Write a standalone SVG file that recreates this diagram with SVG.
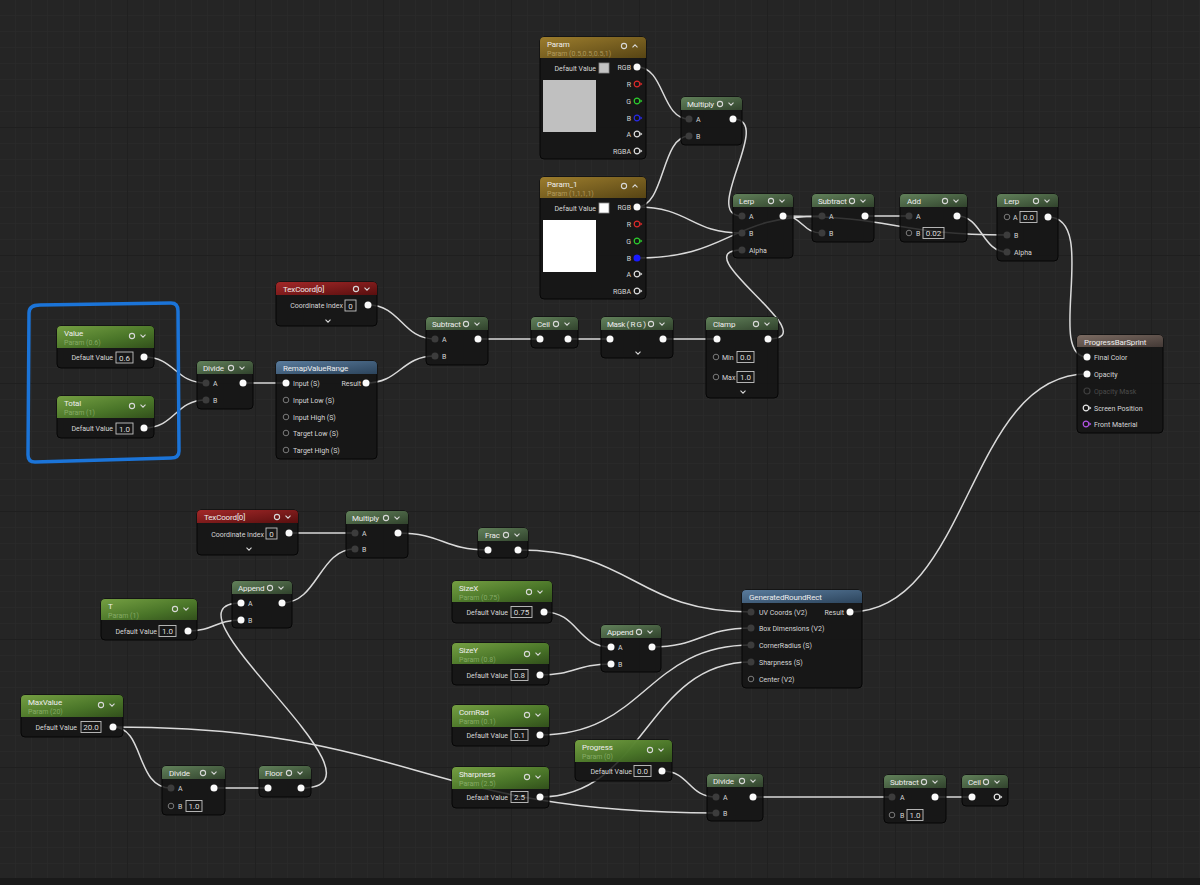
<svg xmlns="http://www.w3.org/2000/svg" width="1200" height="885" viewBox="0 0 1200 885">
<defs>
<style>
text{font-family:Roboto,"Liberation Sans",Arial,sans-serif}
.b{fill:#141414;fill-opacity:.84;stroke:#060606;stroke-width:1}
.t{font-size:8px;fill:#ededed;letter-spacing:-.15px}
.s{font-size:7px;fill:#bcd9a0;fill-opacity:.5}
.sv{font-size:7px;fill:#e6d49a;fill-opacity:.5}
.l{font-size:7px;fill:#d6d6d6}
.r{text-anchor:end}
.c{text-anchor:middle}
.dm{fill:#4a4a4a}
.bx{fill:none;stroke:#c4c4c4;stroke-width:.9}
.v{font-size:8px;fill:#dcdcdc;text-anchor:middle}
.pc{fill:#fafafa}
.pi{fill:#3c3c3c}
.ph{fill:none;stroke:#7a7a7a;stroke-width:1}
.w{fill:none;stroke:#dadada;stroke-width:1.5}
.ic{fill:none;stroke:#d8d8d8;stroke-width:1.1}
.hm{fill:url(#gm);fill-opacity:.9}
.hp{fill:url(#gp);fill-opacity:.9}
.hv{fill:url(#gv);fill-opacity:.92}
.ht{fill:url(#gt);fill-opacity:.92}
.hf{fill:url(#gf);fill-opacity:.92}
.hr{fill:url(#gr);fill-opacity:.92}
</style>
<pattern id="gmin" width="16" height="16" patternUnits="userSpaceOnUse"><path d="M16,0V16H0" fill="none" stroke="#2b2b2b" stroke-width="1"/></pattern>
<pattern id="gmaj" width="128" height="128" patternUnits="userSpaceOnUse"><path d="M128,0V128H0" fill="none" stroke="#1b1b1b" stroke-width="1.3"/></pattern>
<linearGradient id="gm" x1="0" y1="0" x2="1" y2="1"><stop offset="0" stop-color="#6a8d62"/><stop offset="1" stop-color="#34482f"/></linearGradient>
<linearGradient id="gp" x1="0" y1="0" x2="1" y2="1"><stop offset="0" stop-color="#7fae47"/><stop offset=".6" stop-color="#4f7f2a"/><stop offset="1" stop-color="#35561c"/></linearGradient>
<linearGradient id="gv" x1="0" y1="0" x2="1" y2="1"><stop offset="0" stop-color="#a8862f"/><stop offset="1" stop-color="#5c4814"/></linearGradient>
<linearGradient id="gt" x1="0" y1="0" x2="1" y2="1"><stop offset="0" stop-color="#b02a2a"/><stop offset="1" stop-color="#5e0e0e"/></linearGradient>
<linearGradient id="gf" x1="0" y1="0" x2="1" y2="1"><stop offset="0" stop-color="#5f84a8"/><stop offset="1" stop-color="#2e4862"/></linearGradient>
<linearGradient id="gr" x1="0" y1="0" x2="1" y2="1"><stop offset="0" stop-color="#857369"/><stop offset="1" stop-color="#473c38"/></linearGradient>
<g id="ic"><circle r="2.6" class="ic"/><path d="M8.5,-1.3L11,1.2L13.5,-1.3" class="ic"/></g>
<g id="icu"><circle r="2.6" class="ic"/><path d="M8.5,1.3L11,-1.2L13.5,1.3" class="ic"/></g>
<path id="chev" d="M-2.5,-1.3L0,1.2L2.5,-1.3" class="ic"/>
<g id="ho"><circle r="2.8" fill="none" stroke="currentColor" stroke-width="1.2"/><path d="M3.4,-1.7L5.4,0L3.4,1.7Z" fill="currentColor"/></g>
</defs>

<rect width="1200" height="885" fill="#252525"/>
<rect width="1200" height="885" fill="url(#gmin)"/>
<rect width="1200" height="885" fill="url(#gmaj)"/>
<rect y="878" width="1200" height="7" fill="#1a1a1a"/>

<g id="connectors">
<path class="w" d="M637,67C665,67 661,119 689,119"/>
<path class="w" d="M637,207C665,207 661,136 689,136"/>
<path class="w" d="M637,207C690,207 690,233 742,233"/>
<path class="w" d="M637,258C730,258 728,216 822,216"/>
<path class="w" d="M733,119C775,119 700,216 742,216"/>
<path class="w" d="M783,216C803,216 802,233 822,233"/>
<path class="w" d="M783,216C895,216 895,235 1007,235"/>
<path class="w" d="M865,216L909,216"/>
<path class="w" d="M957,216C982,216 982,252 1007,252"/>
<path class="w" d="M1048,217C1100,217 1045,357 1087,357"/>
<path class="w" d="M768,339C830,339 680,250 742,250"/>
<path class="w" d="M144,357C175,357 175,383 206,383"/>
<path class="w" d="M144,428C175,428 175,400 206,400"/>
<path class="w" d="M243,383L286,383"/>
<path class="w" d="M368,305C401,305 402,339 435,339"/>
<path class="w" d="M366,383C400,383 401,356 435,356"/>
<path class="w" d="M478,339L540,339"/>
<path class="w" d="M568,339L610,339"/>
<path class="w" d="M663,339L717,339"/>
<path class="w" d="M850,612C970,612 967,374 1087,374"/>
<path class="w" d="M289,533L355,533"/>
<path class="w" d="M282,603C318,603 319,549 355,549"/>
<path class="w" d="M398,533C443,533 443,550 488,550"/>
<path class="w" d="M518,550C635,550 634,612 751,612"/>
<path class="w" d="M188,631C214,631 215,620 241,620"/>
<path class="w" d="M301,788C405,788 150,603 241,603"/>
<path class="w" d="M113,727C145,727 135,788 171,788"/>
<path class="w" d="M113,727C413,727 416,813 716,813"/>
<path class="w" d="M214,788L268,788"/>
<path class="w" d="M544,612C578,612 577,647 611,647"/>
<path class="w" d="M540,675C575,675 576,664 611,664"/>
<path class="w" d="M652,647C700,647 702,628 751,628"/>
<path class="w" d="M540,735C645,735 646,645 751,645"/>
<path class="w" d="M540,797C645,797 646,662 751,662"/>
<path class="w" d="M662,771C690,771 688,797 716,797"/>
<path class="w" d="M753,797L892,797"/>
<path class="w" d="M935,797L972,797"/>
</g>

<g id="param" transform="translate(540,37)">
<rect class="b" width="106" height="122" rx="4"/>
<path class="hv" d="M0,21V4Q0,0 4,0H102Q106,0 106,4V21Z"/>
<text class="t" x="7" y="10">Param</text>
<text class="sv" x="7" y="19">Param (0.5,0.5,0.5,1)</text>
<use href="#icu" x="84" y="9"/>
<text class="l r" x="56" y="34">Default Value</text>
<rect x="59" y="26" width="10" height="10" fill="#c4c4c4" stroke="#8a8a8a" stroke-width=".8"/>
<rect x="3" y="43" width="53" height="52" fill="#c0c0c0"/>
<text class="l r" x="91" y="33">RGB</text><circle class="pc" cx="97" cy="30" r="3.5"/>
<text class="l r" x="91" y="50">R</text><use href="#ho" x="97" y="47" style="color:#e02a2a"/>
<text class="l r" x="91" y="67">G</text><use href="#ho" x="97" y="64" style="color:#2ed02e"/>
<text class="l r" x="91" y="84">B</text><use href="#ho" x="97" y="81" style="color:#2a2ae8"/>
<text class="l r" x="91" y="100">A</text><use href="#ho" x="97" y="97" style="color:#e0e0e0"/>
<text class="l r" x="91" y="117">RGBA</text><use href="#ho" x="97" y="114" style="color:#e0e0e0"/>
</g>

<g id="param1" transform="translate(540,177)">
<rect class="b" width="106" height="122" rx="4"/>
<path class="hv" d="M0,21V4Q0,0 4,0H102Q106,0 106,4V21Z"/>
<text class="t" x="7" y="10">Param_1</text>
<text class="sv" x="7" y="19">Param (1,1,1,1)</text>
<use href="#icu" x="84" y="9"/>
<text class="l r" x="56" y="34">Default Value</text>
<rect x="59" y="26" width="10" height="10" fill="#ffffff" stroke="#8a8a8a" stroke-width=".8"/>
<rect x="3" y="43" width="53" height="52" fill="#ffffff"/>
<text class="l r" x="91" y="33">RGB</text><circle class="pc" cx="97" cy="30" r="3.5"/>
<text class="l r" x="91" y="50">R</text><use href="#ho" x="97" y="47" style="color:#e02a2a"/>
<text class="l r" x="91" y="67">G</text><use href="#ho" x="97" y="64" style="color:#2ed02e"/>
<text class="l r" x="91" y="84">B</text><circle cx="97" cy="81" r="3.5" fill="#1a1aff"/>
<text class="l r" x="91" y="100">A</text><use href="#ho" x="97" y="97" style="color:#e0e0e0"/>
<text class="l r" x="91" y="117">RGBA</text><use href="#ho" x="97" y="114" style="color:#e0e0e0"/>
</g>

<g id="multiply-top" transform="translate(681,97)">
<rect class="b" width="61" height="48" rx="4"/>
<path class="hm" d="M0,13V4Q0,0 4,0H57Q61,0 61,4V13Z"/>
<text class="t" x="6" y="10">Multiply</text>
<use href="#ic" x="39" y="7"/>
<circle class="pi" cx="8" cy="22" r="3.5"/><text class="l" x="15" y="25">A</text>
<circle class="pi" cx="8" cy="39" r="3.5"/><text class="l" x="15" y="42">B</text>
<circle class="pc" cx="52" cy="22" r="3.5"/>
</g>

<g id="lerp1" transform="translate(733,194)">
<rect class="b" width="60" height="64" rx="4"/>
<path class="hm" d="M0,13V4Q0,0 4,0H56Q60,0 60,4V13Z"/>
<text class="t" x="6" y="10">Lerp</text>
<use href="#ic" x="38" y="7"/>
<circle class="pi" cx="9" cy="22" r="3.5"/><text class="l" x="16" y="25">A</text>
<circle class="pi" cx="9" cy="39" r="3.5"/><text class="l" x="16" y="42">B</text>
<circle class="pi" cx="9" cy="56" r="3.5"/><text class="l" x="16" y="59">Alpha</text>
<circle class="pc" cx="50" cy="22" r="3.5"/>
</g>

<g id="subtract-top" transform="translate(812,194)">
<rect class="b" width="62" height="48" rx="4"/>
<path class="hm" d="M0,13V4Q0,0 4,0H58Q62,0 62,4V13Z"/>
<text class="t" x="6" y="10">Subtract</text>
<use href="#ic" x="40" y="7"/>
<circle class="pi" cx="10" cy="22" r="3.5"/><text class="l" x="17" y="25">A</text>
<circle class="pi" cx="10" cy="39" r="3.5"/><text class="l" x="17" y="42">B</text>
<circle class="pc" cx="53" cy="22" r="3.5"/>
</g>

<g id="add" transform="translate(900,194)">
<rect class="b" width="67" height="48" rx="4"/>
<path class="hm" d="M0,13V4Q0,0 4,0H63Q67,0 67,4V13Z"/>
<text class="t" x="7" y="10">Add</text>
<use href="#ic" x="45" y="7"/>
<circle class="pi" cx="9" cy="22" r="3.5"/><text class="l" x="16" y="25">A</text>
<circle class="ph" cx="9" cy="39" r="2.8"/><text class="l" x="16" y="42">B</text>
<rect class="bx" x="23" y="33.5" width="21" height="11"/><text class="v" x="33.5" y="42">0.02</text>
<circle class="pc" cx="57" cy="22" r="3.5"/>
</g>

<g id="lerp2" transform="translate(997,194)">
<rect class="b" width="61" height="67" rx="4"/>
<path class="hm" d="M0,13V4Q0,0 4,0H57Q61,0 61,4V13Z"/>
<text class="t" x="7" y="10">Lerp</text>
<use href="#ic" x="39" y="7"/>
<circle class="ph" cx="10" cy="23" r="2.8"/><text class="l" x="16" y="26">A</text>
<rect class="bx" x="23" y="17.5" width="17" height="11"/><text class="v" x="31.5" y="26">0.0</text>
<circle class="pi" cx="10" cy="41" r="3.5"/><text class="l" x="17" y="44">B</text>
<circle class="pi" cx="10" cy="58" r="3.5"/><text class="l" x="17" y="61">Alpha</text>
<circle class="pc" cx="51" cy="23" r="3.5"/>
</g>

<g id="selection">
<path d="M40,305L171,303Q178,303 178,311L179,451Q179,458 171,458L35,462Q28,462 28,455L29,313Q29,305 40,305Z" fill="none" stroke="#1b74d8" stroke-width="3.5" stroke-linejoin="round"/>
</g>

<g id="value" transform="translate(57,326)">
<rect class="b" width="97" height="42" rx="4"/>
<path class="hp" d="M0,22V4Q0,0 4,0H93Q97,0 97,4V22Z"/>
<text class="t" x="7" y="10">Value</text>
<text class="s" x="7" y="19">Param (0.6)</text>
<use href="#ic" x="75" y="10"/>
<text class="l r" x="56" y="34">Default Value</text>
<rect class="bx" x="59" y="26" width="17" height="11"/><text class="v" x="67.5" y="34.5">0.6</text>
<circle class="pc" cx="87" cy="31" r="3.5"/>
</g>

<g id="total" transform="translate(57,396)">
<rect class="b" width="97" height="42" rx="4"/>
<path class="hp" d="M0,22V4Q0,0 4,0H93Q97,0 97,4V22Z"/>
<text class="t" x="7" y="10">Total</text>
<text class="s" x="7" y="19">Param (1)</text>
<use href="#ic" x="75" y="10"/>
<text class="l r" x="56" y="35">Default Value</text>
<rect class="bx" x="59" y="27" width="17" height="11"/><text class="v" x="67.5" y="35.5">1.0</text>
<circle class="pc" cx="87" cy="32" r="3.5"/>
</g>

<g id="divide-left" transform="translate(197,361)">
<rect class="b" width="56" height="48" rx="4"/>
<path class="hm" d="M0,13V4Q0,0 4,0H52Q56,0 56,4V13Z"/>
<text class="t" x="6" y="10">Divide</text>
<use href="#ic" x="34" y="7"/>
<circle class="pi" cx="9" cy="22" r="3.5"/><text class="l" x="16" y="25">A</text>
<circle class="pi" cx="9" cy="39" r="3.5"/><text class="l" x="16" y="42">B</text>
<circle class="pc" cx="46" cy="22" r="3.5"/>
</g>

<g id="texcoord-top" transform="translate(276,282)">
<rect class="b" width="101" height="44" rx="4"/>
<path class="ht" d="M0,13V4Q0,0 4,0H97Q101,0 101,4V13Z"/>
<text class="t" x="7" y="10">TexCoord[0]</text>
<use href="#ic" x="80" y="7"/>
<text class="l r" x="67" y="26">Coordinate Index</text>
<rect class="bx" x="69" y="18" width="11" height="11"/><text class="v" x="74.5" y="26.5">0</text>
<circle class="pc" cx="92" cy="23" r="3.5"/>
<use href="#chev" x="52" y="39"/>
</g>

<g id="remap" transform="translate(276,361)">
<rect class="b" width="101" height="98" rx="4"/>
<path class="hf" d="M0,13V4Q0,0 4,0H97Q101,0 101,4V13Z"/>
<text class="t" x="7" y="10">RemapValueRange</text>
<circle class="pc" cx="10" cy="22" r="3.5"/><text class="l" x="17" y="25">Input (S)</text>
<text class="l r" x="85" y="25">Result</text><circle class="pc" cx="90" cy="22" r="3.5"/>
<circle class="ph" cx="10" cy="39" r="2.8"/><text class="l" x="17" y="42">Input Low (S)</text>
<circle class="ph" cx="10" cy="56" r="2.8"/><text class="l" x="17" y="59">Input High (S)</text>
<circle class="ph" cx="10" cy="72" r="2.8"/><text class="l" x="17" y="75">Target Low (S)</text>
<circle class="ph" cx="10" cy="89" r="2.8"/><text class="l" x="17" y="92">Target High (S)</text>
</g>

<g id="subtract-mid" transform="translate(426,317)">
<rect class="b" width="62" height="48" rx="4"/>
<path class="hm" d="M0,13V4Q0,0 4,0H58Q62,0 62,4V13Z"/>
<text class="t" x="6" y="10">Subtract</text>
<use href="#ic" x="40" y="7"/>
<circle class="pi" cx="9" cy="22" r="3.5"/><text class="l" x="16" y="25">A</text>
<circle class="pi" cx="9" cy="39" r="3.5"/><text class="l" x="16" y="42">B</text>
<circle class="pc" cx="52" cy="22" r="3.5"/>
</g>

<g id="ceil-mid" transform="translate(531,317)">
<rect class="b" width="47" height="31" rx="4"/>
<path class="hm" d="M0,13V4Q0,0 4,0H43Q47,0 47,4V13Z"/>
<text class="t" x="6" y="10">Ceil</text>
<use href="#ic" x="25" y="7"/>
<circle class="pc" cx="9" cy="22" r="3.5"/>
<circle class="pc" cx="37" cy="22" r="3.5"/>
</g>

<g id="mask" transform="translate(601,317)">
<rect class="b" width="72" height="41" rx="4"/>
<path class="hm" d="M0,13V4Q0,0 4,0H68Q72,0 72,4V13Z"/>
<text class="t" x="6" y="10" style="letter-spacing:-.4px">Mask ( R G )</text>
<use href="#ic" x="50" y="7"/>
<circle class="pc" cx="9" cy="22" r="3.5"/>
<circle class="pc" cx="62" cy="22" r="3.5"/>
<use href="#chev" x="37" y="36"/>
</g>

<g id="clamp" transform="translate(706,317)">
<rect class="b" width="72" height="81" rx="4"/>
<path class="hm" d="M0,13V4Q0,0 4,0H68Q72,0 72,4V13Z"/>
<text class="t" x="7" y="10">Clamp</text>
<use href="#ic" x="50" y="7"/>
<circle class="pc" cx="11" cy="22" r="3.5"/>
<circle class="pc" cx="62" cy="22" r="3.5"/>
<circle class="ph" cx="10" cy="40" r="2.8"/><text class="l" x="16" y="43">Min</text>
<rect class="bx" x="31" y="34.5" width="17" height="11"/><text class="v" x="39.5" y="43">0.0</text>
<circle class="ph" cx="10" cy="60" r="2.8"/><text class="l" x="16" y="63">Max</text>
<rect class="bx" x="31" y="54.5" width="17" height="11"/><text class="v" x="39.5" y="63">1.0</text>
<use href="#chev" x="37" y="75"/>
</g>

<g id="progressbarsprint" transform="translate(1077,335)">
<rect class="b" width="86" height="98" rx="4"/>
<path class="hr" d="M0,12V4Q0,0 4,0H82Q86,0 86,4V12Z"/>
<text class="t" x="7" y="9.5">ProgressBarSprint</text>
<circle class="pc" cx="10" cy="22" r="3.5"/><text class="l" x="17" y="25">Final Color</text>
<circle class="pc" cx="10" cy="39" r="3.5"/><text class="l" x="17" y="42">Opacity</text>
<circle cx="10" cy="56" r="3" fill="none" stroke="#3e3e3e" stroke-width="1.2"/><text class="l dm" x="17" y="59">Opacity Mask</text>
<use href="#ho" x="9" y="73" style="color:#e8e8e8"/><text class="l" x="17" y="76">Screen Position</text>
<use href="#ho" x="9" y="89" style="color:#b454e6"/><text class="l" x="17" y="92">Front Material</text>
</g>

<g id="texcoord-bottom" transform="translate(197,510)">
<rect class="b" width="101" height="45" rx="4"/>
<path class="ht" d="M0,13V4Q0,0 4,0H97Q101,0 101,4V13Z"/>
<text class="t" x="7" y="10">TexCoord[0]</text>
<use href="#ic" x="80" y="7"/>
<text class="l r" x="67" y="26.5">Coordinate Index</text>
<rect class="bx" x="69" y="18" width="11" height="11"/><text class="v" x="74.5" y="26.5">0</text>
<circle class="pc" cx="92" cy="23" r="3.5"/>
<use href="#chev" x="52" y="39"/>
</g>

<g id="multiply-bottom" transform="translate(346,511)">
<rect class="b" width="62" height="47" rx="4"/>
<path class="hm" d="M0,13V4Q0,0 4,0H58Q62,0 62,4V13Z"/>
<text class="t" x="6" y="10">Multiply</text>
<use href="#ic" x="40" y="7"/>
<circle class="pi" cx="9" cy="22" r="3.5"/><text class="l" x="16" y="25">A</text>
<circle class="pi" cx="9" cy="38" r="3.5"/><text class="l" x="16" y="41">B</text>
<circle class="pc" cx="52" cy="22" r="3.5"/>
</g>

<g id="frac" transform="translate(478,528)">
<rect class="b" width="50" height="30" rx="4"/>
<path class="hm" d="M0,13V4Q0,0 4,0H46Q50,0 50,4V13Z"/>
<text class="t" x="7" y="10">Frac</text>
<use href="#ic" x="28" y="7"/>
<circle class="pc" cx="10" cy="22" r="3.5"/>
<circle class="pc" cx="40" cy="22" r="3.5"/>
</g>

<g id="param-t" transform="translate(101,599)">
<rect class="b" width="96" height="41" rx="4"/>
<path class="hp" d="M0,21V4Q0,0 4,0H92Q96,0 96,4V21Z"/>
<text class="t" x="7" y="10">T</text>
<text class="s" x="7" y="19">Param (1)</text>
<use href="#ic" x="74" y="10"/>
<text class="l r" x="56" y="35">Default Value</text>
<rect class="bx" x="58" y="26.5" width="17" height="11"/><text class="v" x="66.5" y="35">1.0</text>
<circle class="pc" cx="87" cy="32" r="3.5"/>
</g>

<g id="append-left" transform="translate(232,581)">
<rect class="b" width="60" height="47" rx="4"/>
<path class="hm" d="M0,13V4Q0,0 4,0H56Q60,0 60,4V13Z"/>
<text class="t" x="6" y="10">Append</text>
<use href="#ic" x="38" y="7"/>
<circle class="pc" cx="9" cy="22" r="3.5"/><text class="l" x="16" y="25">A</text>
<circle class="pc" cx="9" cy="39" r="3.5"/><text class="l" x="16" y="42">B</text>
<circle class="pc" cx="50" cy="22" r="3.5"/>
</g>

<g id="sizex" transform="translate(452,581)">
<rect class="b" width="100" height="42" rx="4"/>
<path class="hp" d="M0,21V4Q0,0 4,0H96Q100,0 100,4V21Z"/>
<text class="t" x="7" y="10">SizeX</text>
<text class="s" x="7" y="19">Param (0.75)</text>
<use href="#ic" x="77" y="11"/>
<text class="l r" x="56" y="34">Default Value</text>
<rect class="bx" x="59" y="25.5" width="21" height="11"/><text class="v" x="69.5" y="34">0.75</text>
<circle class="pc" cx="92" cy="31" r="3.5"/>
</g>

<g id="sizey" transform="translate(452,643)">
<rect class="b" width="97" height="42" rx="4"/>
<path class="hp" d="M0,21V4Q0,0 4,0H93Q97,0 97,4V21Z"/>
<text class="t" x="7" y="10">SizeY</text>
<text class="s" x="7" y="19">Param (0.8)</text>
<use href="#ic" x="75" y="11"/>
<text class="l r" x="56" y="35">Default Value</text>
<rect class="bx" x="59" y="26.5" width="17" height="11"/><text class="v" x="67.5" y="35">0.8</text>
<circle class="pc" cx="88" cy="32" r="3.5"/>
</g>

<g id="append-right" transform="translate(601,625)">
<rect class="b" width="60" height="47" rx="4"/>
<path class="hm" d="M0,13V4Q0,0 4,0H56Q60,0 60,4V13Z"/>
<text class="t" x="6" y="10">Append</text>
<use href="#ic" x="38" y="7"/>
<circle class="pc" cx="10" cy="22" r="3.5"/><text class="l" x="17" y="25">A</text>
<circle class="pc" cx="10" cy="39" r="3.5"/><text class="l" x="17" y="42">B</text>
<circle class="pc" cx="51" cy="22" r="3.5"/>
</g>

<g id="generatedroundrect" transform="translate(742,590)">
<rect class="b" width="120" height="98" rx="4"/>
<path class="hf" d="M0,13V4Q0,0 4,0H116Q120,0 120,4V13Z"/>
<text class="t" x="7" y="10">GeneratedRoundRect</text>
<circle class="pi" cx="9" cy="22" r="3.5"/><text class="l" x="17" y="25">UV Coords (V2)</text>
<text class="l r" x="102" y="25">Result</text><circle class="pc" cx="108" cy="22" r="3.5"/>
<circle class="pi" cx="9" cy="38" r="3.5"/><text class="l" x="17" y="41">Box Dimensions (V2)</text>
<circle class="pi" cx="9" cy="55" r="3.5"/><text class="l" x="17" y="58">CornerRadius (S)</text>
<circle class="pi" cx="9" cy="72" r="3.5"/><text class="l" x="17" y="75">Sharpness (S)</text>
<circle class="ph" cx="9" cy="89" r="2.8"/><text class="l" x="17" y="92">Center (V2)</text>
</g>

<g id="maxvalue" transform="translate(21,695)">
<rect class="b" width="102" height="42" rx="4"/>
<path class="hp" d="M0,22V4Q0,0 4,0H98Q102,0 102,4V22Z"/>
<text class="t" x="7" y="10">MaxValue</text>
<text class="s" x="7" y="19">Param (20)</text>
<use href="#ic" x="80" y="10"/>
<text class="l r" x="56" y="35">Default Value</text>
<rect class="bx" x="60" y="26.5" width="20" height="11"/><text class="v" x="70" y="35">20.0</text>
<circle class="pc" cx="92" cy="32" r="3.5"/>
</g>

<g id="divide-bl" transform="translate(162,766)">
<rect class="b" width="63" height="49" rx="4"/>
<path class="hm" d="M0,13V4Q0,0 4,0H59Q63,0 63,4V13Z"/>
<text class="t" x="7" y="10">Divide</text>
<use href="#ic" x="41" y="7"/>
<circle class="pi" cx="9" cy="22" r="3.5"/><text class="l" x="16" y="25">A</text>
<circle class="ph" cx="9" cy="40" r="2.8"/><text class="l" x="16" y="43">B</text>
<rect class="bx" x="24" y="34.5" width="16" height="11"/><text class="v" x="32" y="43">1.0</text>
<circle class="pc" cx="52" cy="22" r="3.5"/>
</g>

<g id="floor" transform="translate(259,766)">
<rect class="b" width="52" height="31" rx="4"/>
<path class="hm" d="M0,13V4Q0,0 4,0H48Q52,0 52,4V13Z"/>
<text class="t" x="6" y="10">Floor</text>
<use href="#ic" x="30" y="7"/>
<circle class="pc" cx="9" cy="22" r="3.5"/>
<circle class="pc" cx="42" cy="22" r="3.5"/>
</g>

<g id="cornrad" transform="translate(452,705)">
<rect class="b" width="97" height="41" rx="4"/>
<path class="hp" d="M0,22V4Q0,0 4,0H93Q97,0 97,4V22Z"/>
<text class="t" x="7" y="10">CornRad</text>
<text class="s" x="7" y="19">Param (0.1)</text>
<use href="#ic" x="75" y="10"/>
<text class="l r" x="56" y="33">Default Value</text>
<rect class="bx" x="59" y="24.5" width="17" height="11"/><text class="v" x="67.5" y="33">0.1</text>
<circle class="pc" cx="88" cy="30" r="3.5"/>
</g>

<g id="sharpness" transform="translate(452,767)">
<rect class="b" width="97" height="41" rx="4"/>
<path class="hp" d="M0,22V4Q0,0 4,0H93Q97,0 97,4V22Z"/>
<text class="t" x="7" y="10">Sharpness</text>
<text class="s" x="7" y="19">Param (2.5)</text>
<use href="#ic" x="75" y="10"/>
<text class="l r" x="56" y="33">Default Value</text>
<rect class="bx" x="59" y="24.5" width="17" height="11"/><text class="v" x="67.5" y="33">2.5</text>
<circle class="pc" cx="88" cy="30" r="3.5"/>
</g>

<g id="progress" transform="translate(575,740)">
<rect class="b" width="97" height="41" rx="4"/>
<path class="hp" d="M0,22V4Q0,0 4,0H93Q97,0 97,4V22Z"/>
<text class="t" x="7" y="10">Progress</text>
<text class="s" x="7" y="19">Param (0)</text>
<use href="#ic" x="75" y="10"/>
<text class="l r" x="57" y="34">Default Value</text>
<rect class="bx" x="59" y="25.5" width="17" height="11"/><text class="v" x="67.5" y="34">0.0</text>
<circle class="pc" cx="87" cy="31" r="3.5"/>
</g>

<g id="divide-bottom" transform="translate(707,774)">
<rect class="b" width="56" height="47" rx="4"/>
<path class="hm" d="M0,13V4Q0,0 4,0H52Q56,0 56,4V13Z"/>
<text class="t" x="6" y="10">Divide</text>
<use href="#ic" x="35" y="7"/>
<circle class="pi" cx="9" cy="23" r="3.5"/><text class="l" x="16" y="26">A</text>
<circle class="pi" cx="9" cy="39" r="3.5"/><text class="l" x="16" y="42">B</text>
<circle class="pc" cx="46" cy="23" r="3.5"/>
</g>

<g id="subtract-bottom" transform="translate(884,775)">
<rect class="b" width="62" height="48" rx="4"/>
<path class="hm" d="M0,13V4Q0,0 4,0H58Q62,0 62,4V13Z"/>
<text class="t" x="6" y="10">Subtract</text>
<use href="#ic" x="40" y="7"/>
<circle class="pi" cx="8" cy="22" r="3.5"/><text class="l" x="16" y="25">A</text>
<circle class="ph" cx="8" cy="40" r="2.8"/><text class="l" x="16" y="43">B</text>
<rect class="bx" x="23" y="34.5" width="16" height="11"/><text class="v" x="31" y="43">1.0</text>
<circle class="pc" cx="51" cy="22" r="3.5"/>
</g>

<g id="ceil-bottom" transform="translate(962,775)">
<rect class="b" width="46" height="31" rx="4"/>
<path class="hm" d="M0,13V4Q0,0 4,0H42Q46,0 46,4V13Z"/>
<text class="t" x="6" y="10">Ceil</text>
<use href="#ic" x="24" y="7"/>
<circle class="pc" cx="10" cy="22" r="3.5"/>
<use href="#ho" x="35" y="22" style="color:#e8e8e8"/>
</g>
</svg>
